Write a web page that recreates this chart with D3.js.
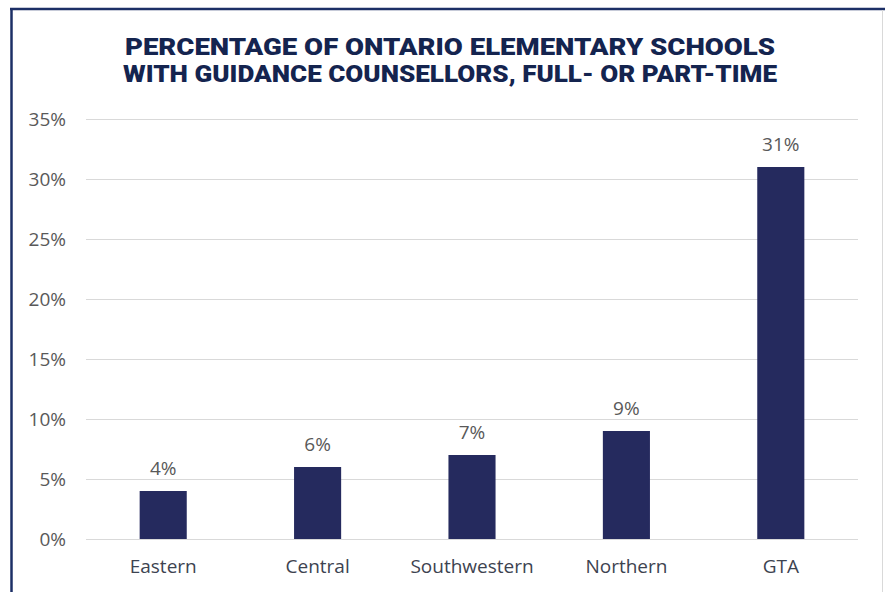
<!DOCTYPE html>
<html><head><meta charset="utf-8">
<script src="https://cdn.jsdelivr.net/npm/d3@7"></script>
<style>body{margin:0;background:#fff}svg{display:block}</style>
</head><body>
<script>
const categories = ["Eastern","Central","Southwestern","Northern","GTA"];
const values = [4,6,7,9,31];
const yTicks = [0,5,10,15,20,25,30,35];
const titleLines = ["PERCENTAGE OF ONTARIO ELEMENTARY SCHOOLS","WITH GUIDANCE COUNSELLORS, FULL- OR PART-TIME"];

const W=885,H=592;
const svg=d3.select("body").append("svg").attr("width",W).attr("height",H);
// frame
svg.append("line").attr("x1",10).attr("x2",W).attr("y1",9).attr("y2",9).attr("stroke","#1c2f66").attr("stroke-width",2.5);
svg.append("line").attr("x1",11.5).attr("x2",11.5).attr("y1",8).attr("y2",H).attr("stroke","#1c2f66").attr("stroke-width",2.5);
svg.append("line").attr("x1",882.5).attr("x2",882.5).attr("y1",10).attr("y2",H).attr("stroke","#d9d9d9").attr("stroke-width",1);

const m={l:86,r:858,t:119,b:539};
const x=d3.scaleBand().domain(categories).range([m.l,m.r]).padding(0);
const y=d3.scaleLinear().domain([0,35]).range([m.b,m.t]);

svg.append("g").selectAll("text").data(titleLines).join("text")
  .attr("x",450).attr("y",(d,i)=>55+i*27).attr("text-anchor","middle")
  .attr("font-family","Roboto, 'Open Sans', sans-serif").attr("font-weight",900)
  .attr("font-size",24).attr("fill","#14244f").attr("textLength",(d,i)=>i?654:650).attr("lengthAdjust","spacingAndGlyphs")
  .text(d=>d);

const ya=svg.append("g").attr("transform",`translate(${m.l},0)`)
  .call(d3.axisLeft(y).tickValues(yTicks).tickFormat(d=>d+"%").tickSize(-(m.r-m.l)).tickPadding(20));
ya.select(".domain").remove();
ya.selectAll(".tick line").attr("stroke","#d9d9d9");
ya.selectAll(".tick text").attr("font-family","'Open Sans', sans-serif").attr("font-size",19).attr("fill","#595959");

const bw=x.bandwidth()*0.305;
svg.append("g").selectAll("rect").data(values).join("rect")
  .attr("x",(d,i)=>x(categories[i])+x.bandwidth()/2-bw/2)
  .attr("y",d=>y(d)).attr("width",bw).attr("height",d=>y(0)-y(d)).attr("fill","#252a5e");

svg.append("g").selectAll("text").data(values).join("text")
  .attr("x",(d,i)=>x(categories[i])+x.bandwidth()/2).attr("y",d=>y(d)-16)
  .attr("text-anchor","middle").attr("font-family","'Open Sans', sans-serif").attr("font-size",19).attr("fill","#595959")
  .text(d=>d+"%");

const xa=svg.append("g").attr("transform",`translate(0,${m.b})`).call(d3.axisBottom(x).tickSize(0).tickPadding(21));
xa.select(".domain").remove();
xa.selectAll(".tick text").attr("font-family","'Open Sans', sans-serif").attr("font-size",19).attr("fill","#3d4350");
</script>
</body></html>
